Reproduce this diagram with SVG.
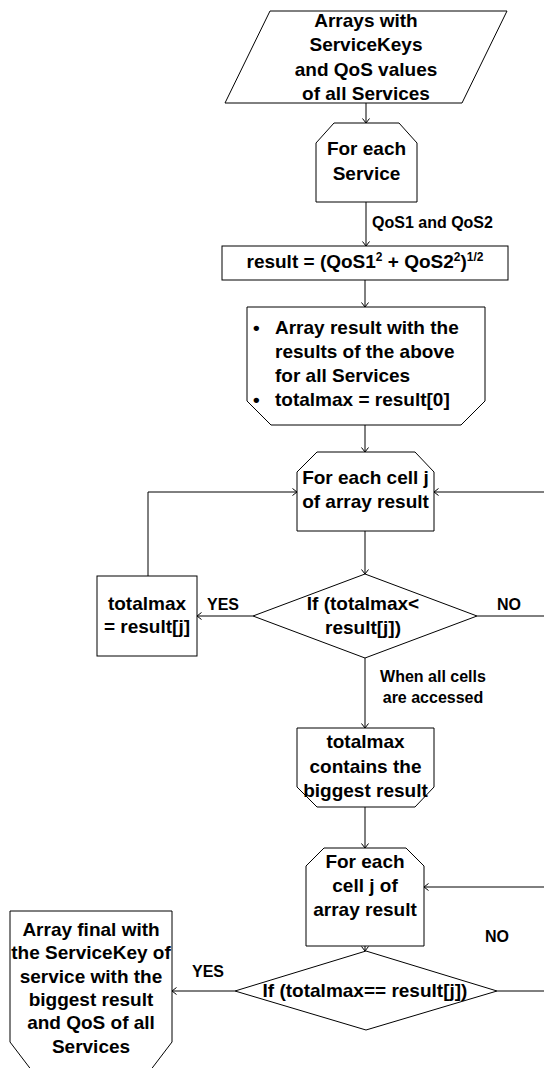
<svg xmlns="http://www.w3.org/2000/svg" width="544" height="1068" viewBox="0 0 544 1068">
<style>
  .shape { fill: #fff; stroke: #000; stroke-width: 1; }
  .t { font-family: "Liberation Sans", Arial, sans-serif; font-weight: bold; font-size: 19px; fill: #000; }
  .c { text-anchor: middle; }
  .lbl { font-family: "Liberation Sans", Arial, sans-serif; font-weight: bold; font-size: 16px; fill: #000; }
  .edge { fill: none; stroke: #000; stroke-width: 1; }
</style>
<defs>
  <marker id="arr" viewBox="-6 -5 7 10" refX="0" refY="0" markerWidth="7" markerHeight="10" markerUnits="userSpaceOnUse" orient="auto">
    <path d="M-4.5,-3.5 L0,0 L-4.5,3.5" fill="none" stroke="#000" stroke-width="1"/>
  </marker>
</defs>
<rect width="544" height="1068" fill="#fff"/>

<g id="connectors">
  <line class="edge" x1="366" y1="103" x2="366" y2="123" marker-end="url(#arr)"/>
  <line class="edge" x1="366" y1="202" x2="366" y2="246" marker-end="url(#arr)"/>
  <line class="edge" x1="365" y1="280" x2="365" y2="307" marker-end="url(#arr)"/>
  <line class="edge" x1="365" y1="425" x2="365" y2="452" marker-end="url(#arr)"/>
  <line class="edge" x1="365" y1="531" x2="365" y2="574" marker-end="url(#arr)"/>
  <line class="edge" x1="253" y1="616" x2="197" y2="616" marker-end="url(#arr)"/>
  <line class="edge" x1="477" y1="616" x2="544" y2="616"/>
  <polyline class="edge" points="148,576 148,492 297,492" marker-end="url(#arr)"/>
  <line class="edge" x1="544" y1="492" x2="434" y2="492" marker-end="url(#arr)"/>
  <line class="edge" x1="365" y1="658" x2="365" y2="728" marker-end="url(#arr)"/>
  <line class="edge" x1="365" y1="807" x2="365" y2="848" marker-end="url(#arr)"/>
  <line class="edge" x1="365" y1="946" x2="365" y2="951" marker-end="url(#arr)"/>
  <line class="edge" x1="235" y1="991" x2="172" y2="991" marker-end="url(#arr)"/>
  <line class="edge" x1="497" y1="991" x2="544" y2="991"/>
  <line class="edge" x1="544" y1="887" x2="424" y2="887" marker-end="url(#arr)"/>
  <text class="lbl" x="372" y="228">QoS1 and QoS2</text>
  <text class="lbl" x="207" y="610">YES</text>
  <text class="lbl" x="497" y="610">NO</text>
  <text class="lbl c" x="433" y="682">When all cells</text>
  <text class="lbl c" x="433" y="703">are accessed</text>
  <text class="lbl" x="192" y="977">YES</text>
  <text class="lbl" x="485" y="942">NO</text>
</g>

<g id="input">
  <polygon class="shape" points="270,11 507,11 462,103 225,103"/>
  <text class="t c" x="366" y="27">Arrays with</text>
  <text class="t c" x="366" y="51">ServiceKeys</text>
  <text class="t c" x="366" y="76">and QoS values</text>
  <text class="t c" x="366" y="100">of all Services</text>
</g>

<g id="loop-service">
  <path class="shape" d="M316,143 L334,123 L399,123 L417,143 L417,202 L316,202 Z"/>
  <text class="t c" x="366.5" y="155">For each</text>
  <text class="t c" x="366.5" y="180">Service</text>
</g>

<g id="compute">
  <rect class="shape" x="222" y="246" width="286" height="34"/>
  <text class="t c" x="365" y="268">result = (QoS1<tspan dy="-7" font-size="12">2</tspan><tspan dy="7"> + QoS2</tspan><tspan dy="-7" font-size="12">2</tspan><tspan dy="7">)</tspan><tspan dy="-7" font-size="12">1/2</tspan></text>
</g>

<g id="array-result">
  <path class="shape" d="M247,307 L485,307 L485,401 L461,425 L271,425 L247,401 Z"/>
  <text class="t" x="253" y="334">•</text>
  <text class="t" x="275" y="334">Array result with the</text>
  <text class="t" x="275" y="358">results of the above</text>
  <text class="t" x="275" y="382">for all Services</text>
  <text class="t" x="253" y="406">•</text>
  <text class="t" x="275" y="406">totalmax = result[0]</text>
</g>

<g id="loop-cells-1">
  <path class="shape" d="M297,472 L317,452 L415,452 L434,472 L434,531 L297,531 Z"/>
  <text class="t c" x="365.5" y="484">For each cell j</text>
  <text class="t c" x="365.5" y="508">of array result</text>
</g>

<g id="decision-1">
  <polygon class="shape" points="253,616 365,574 477,616 365,658"/>
  <text class="t c" x="363" y="610">If (totalmax&lt;</text>
  <text class="t c" x="363" y="634">result[j])</text>
</g>

<g id="assign-max">
  <rect class="shape" x="97" y="576" width="100" height="80"/>
  <text class="t c" x="147" y="610">totalmax</text>
  <text class="t c" x="147" y="633">= result[j]</text>
</g>

<g id="max-found">
  <path class="shape" d="M297,728 L434,728 L434,787 L415,807 L317,807 L297,787 Z"/>
  <text class="t c" x="365.5" y="748">totalmax</text>
  <text class="t c" x="365.5" y="773">contains the</text>
  <text class="t c" x="365.5" y="797">biggest result</text>
</g>

<g id="loop-cells-2">
  <path class="shape" d="M306,866 L324,848 L406,848 L424,866 L424,946 L306,946 Z"/>
  <text class="t c" x="365" y="868">For each</text>
  <text class="t c" x="365" y="892">cell j of</text>
  <text class="t c" x="365" y="916">array result</text>
</g>

<g id="decision-2">
  <polygon class="shape" points="235,991 366,951 497,991 366,1030"/>
  <text class="t c" x="365" y="997">If (totalmax== result[j])</text>
</g>

<g id="output">
  <polygon class="shape" points="10,911 172,911 172,1042 140,1084 42,1084 10,1042"/>
  <text class="t c" x="91" y="936">Array final with</text>
  <text class="t c" x="91" y="959">the ServiceKey of</text>
  <text class="t c" x="91" y="983">service with the</text>
  <text class="t c" x="91" y="1006">biggest result</text>
  <text class="t c" x="91" y="1029">and QoS of all</text>
  <text class="t c" x="91" y="1053">Services</text>
</g>
</svg>
